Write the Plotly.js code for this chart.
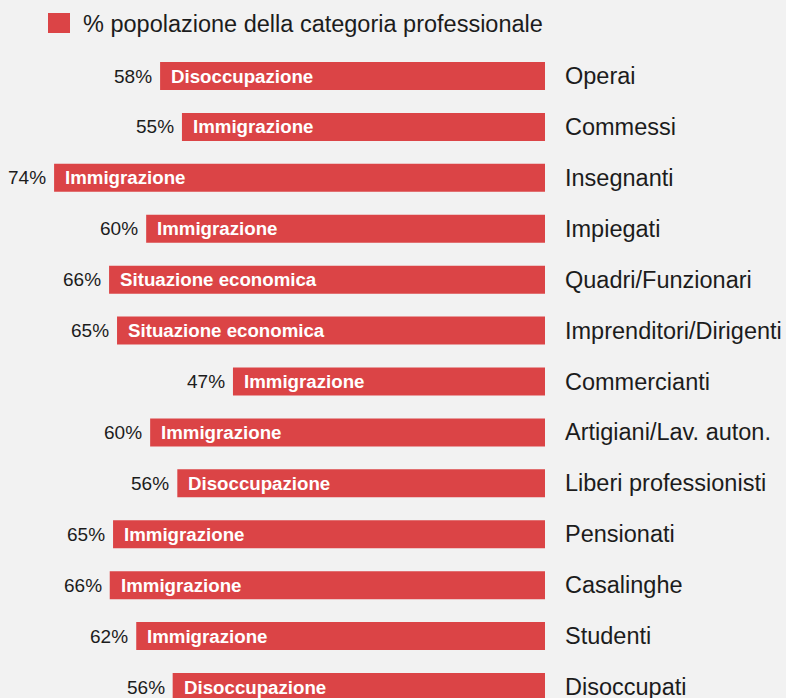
<!DOCTYPE html>
<html>
<head>
<meta charset="utf-8">
<script src="https://cdn.plot.ly/plotly-3.0.1.min.js"></script>
<style>
html, body { margin: 0; padding: 0; background: #f2f2f2; }
#chart { width: 786px; height: 698px; }
</style>
</head>
<body>
<div id="chart"></div>
<script>
const categories = ["Operai", "Commessi", "Insegnanti", "Impiegati", "Quadri/Funzionari",
  "Imprenditori/Dirigenti", "Commercianti", "Artigiani/Lav. auton.", "Liberi professionisti",
  "Pensionati", "Casalinghe", "Studenti", "Disoccupati"];
const values = [58.1, 54.8, 74.1, 60.2, 65.8, 64.6, 47.1, 59.6, 55.5, 65.2, 65.7, 61.7, 56.2];
const topics = ["Disoccupazione", "Immigrazione", "Immigrazione", "Immigrazione", "Situazione economica",
  "Situazione economica", "Immigrazione", "Immigrazione", "Disoccupazione", "Immigrazione",
  "Immigrazione", "Immigrazione", "Disoccupazione"];
const valueLabels = ["58%", "55%", "74%", "60%", "66%", "65%", "47%", "60%", "56%", "65%", "66%", "62%", "56%"];
const seriesName = "% popolazione della categoria professionale";

const BAR = "#db4446";
const TXT = "#1c1c1c";
const FONT = "Liberation Sans, Arial, sans-serif";
const W = 786, H = 698, R = 241;
const plotW = W - R;

const idx = categories.map((c, i) => i);

const trace = {
  type: "bar",
  orientation: "h",
  x: values,
  y: idx,
  width: 0.55,
  marker: { color: BAR },
  name: seriesName,
  hoverinfo: "none",
  showlegend: false
};

const annotations = [];
categories.forEach((c, i) => {
  annotations.push({
    x: values[i], y: i, xref: "x", yref: "y", text: topics[i],
    showarrow: false, xanchor: "left", yanchor: "middle", xshift: 11,
    borderpad: 0, borderwidth: 0,
    font: { family: FONT, size: 18.7, color: "#ffffff", weight: "bold" }
  });
  annotations.push({
    x: values[i], y: i, xref: "x", yref: "y", text: valueLabels[i],
    showarrow: false, xanchor: "right", yanchor: "middle", xshift: -8,
    borderpad: 0, borderwidth: 0,
    font: { family: FONT, size: 19, color: TXT }
  });
  annotations.push({
    x: 1, y: i, xref: "paper", yref: "y", text: c,
    showarrow: false, xanchor: "left", yanchor: "middle", xshift: 20,
    borderpad: 0, borderwidth: 0,
    font: { family: FONT, size: 23.5, color: TXT }
  });
});
annotations.push({
  x: 83 / plotW, y: 1 - 24 / H, xref: "paper", yref: "paper", text: seriesName,
  showarrow: false, xanchor: "left", yanchor: "middle",
  borderpad: 0, borderwidth: 0,
  font: { family: FONT, size: 23.5, color: TXT }
});

const step = 50.92;
const lo = -76 / step;
const hi = lo + H / step;
const pxPerUnit = 6.625;

const layout = {
  width: W, height: H,
  margin: { l: 0, r: R, t: 0, b: 0, pad: 0 },
  paper_bgcolor: "#f2f2f2",
  plot_bgcolor: "#f2f2f2",
  xaxis: { range: [plotW / pxPerUnit, 0], visible: false, fixedrange: true },
  yaxis: { range: [hi, lo], visible: false, fixedrange: true },
  showlegend: false,
  annotations: annotations,
  shapes: [{
    type: "rect", xref: "paper", yref: "paper",
    x0: 48 / plotW, x1: 70 / plotW, y0: 1 - 33 / H, y1: 1 - 13 / H,
    fillcolor: BAR, line: { width: 0 }
  }]
};

Plotly.newPlot("chart", [trace], layout, { displayModeBar: false, staticPlot: true });
</script>
</body>
</html>
